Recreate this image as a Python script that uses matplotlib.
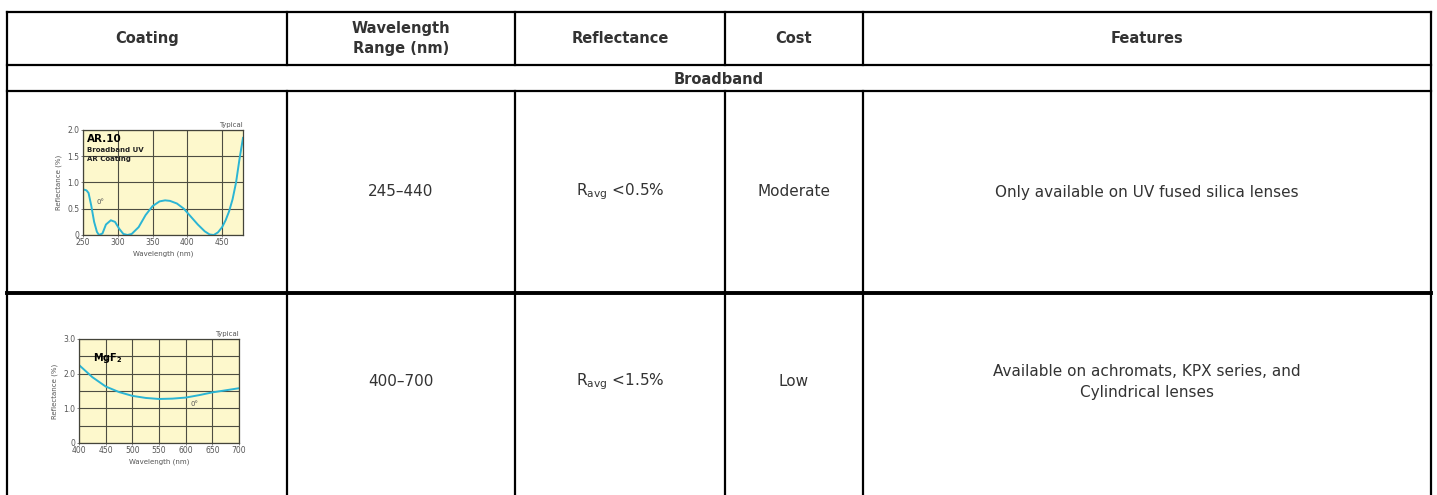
import matplotlib
matplotlib.use("Agg")
import matplotlib.pyplot as plt
import numpy as np

plt.rcParams['font.family'] = ['DejaVu Sans']
plt.rcParams['mathtext.default'] = 'regular'

# ---------------- data ----------------
headers = ["Coating", "Wavelength\nRange (nm)", "Reflectance", "Cost", "Features"]
section = "Broadband"
wavelength_ranges = ["245\u2013440", "400\u2013700"]
reflectances = ["R$_{avg}$ <0.5%", "R$_{avg}$ <1.5%"]
costs = ["Moderate", "Low"]
features = ["Only available on UV fused silica lenses",
            "Available on achromats, KPX series, and\nCylindrical lenses"]

# AR.10 curve (wavelength nm, reflectance %)
ar10_wl = [250, 255, 258, 262, 266, 270, 273, 278, 283, 290, 296, 302, 308, 314,
           320, 330, 340, 350, 360, 368, 375, 385, 395, 405, 415, 425, 432, 438,
           444, 450, 455, 460, 465, 470, 475, 480]
ar10_r = [0.87, 0.85, 0.80, 0.55, 0.25, 0.06, 0.00, 0.03, 0.20, 0.28, 0.25, 0.12,
          0.02, 0.00, 0.02, 0.15, 0.38, 0.55, 0.64, 0.66, 0.65, 0.60, 0.50, 0.35,
          0.20, 0.07, 0.01, 0.00, 0.05, 0.15, 0.28, 0.45, 0.68, 1.00, 1.45, 1.85]
ar10_xticks = [250, 300, 350, 400, 450]
ar10_yticks = [0, 0.5, 1.0, 1.5, 2.0]
ar10_yticklabels = ["0", "0.5", "1.0", "1.5", "2.0"]

# MgF2 curve
mgf2_wl = [400, 425, 450, 475, 500, 525, 550, 575, 600, 625, 650, 675, 700]
mgf2_r = [2.25, 1.90, 1.63, 1.47, 1.36, 1.30, 1.27, 1.28, 1.31, 1.38, 1.46, 1.52, 1.58]
mgf2_xticks = [400, 450, 500, 550, 600, 650, 700]
mgf2_yticks = [0, 1.0, 2.0, 3.0]
mgf2_yticklabels = ["0", "1.0", "2.0", "3.0"]

# ---------------- layout ----------------
W, H = 1437, 495
fig = plt.figure(figsize=(W / 100, H / 100), dpi=100)
ax = fig.add_axes([0, 0, 1, 1])
ax.set_xlim(0, W)
ax.set_ylim(H, 0)
ax.axis('off')

col_x = [7, 287, 515, 725, 863, 1431]
y_top, y_head, y_sec, y_row1 = 12, 65, 91, 293
y_bot = 495

lw = 1.6
txt = '#333333'
# horizontal lines
ax.plot([col_x[0], col_x[-1]], [y_top, y_top], color='black', lw=lw)
ax.plot([col_x[0], col_x[-1]], [y_head, y_head], color='black', lw=lw)
ax.plot([col_x[0], col_x[-1]], [y_sec, y_sec], color='black', lw=lw)
ax.plot([col_x[0], col_x[-1]], [y_row1, y_row1], color='black', lw=2.8)
# vertical lines
for i, x in enumerate(col_x):
    if i in (0, len(col_x) - 1):
        ax.plot([x, x], [y_top, y_bot], color='black', lw=lw)
    else:
        ax.plot([x, x], [y_top, y_head], color='black', lw=lw)
        ax.plot([x, x], [y_sec, y_bot], color='black', lw=lw)

centers = [(col_x[i] + col_x[i + 1]) / 2 for i in range(5)]
for c, h in zip(centers, headers):
    ax.text(c, (y_top + y_head) / 2, h, ha='center', va='center',
            fontsize=10.5, fontweight='bold', color=txt, linespacing=1.35)
ax.text((col_x[0] + col_x[-1]) / 2, (y_head + y_sec) / 2 + 1, section,
        ha='center', va='center', fontsize=10.5, fontweight='bold', color=txt)

row_y = [192, 382]
for i in range(2):
    ax.text(centers[1], row_y[i], wavelength_ranges[i], ha='center', va='center',
            fontsize=11, color=txt)
    ax.text(centers[2], row_y[i], reflectances[i], ha='center', va='center',
            fontsize=11, color=txt)
    ax.text(centers[3], row_y[i], costs[i], ha='center', va='center',
            fontsize=11, color=txt)
    ax.text(centers[4], row_y[i], features[i], ha='center', va='center',
            fontsize=11, color=txt, linespacing=1.45)

# ---------------- mini charts ----------------
cream = '#FDF8CC'
cyan = '#2BB5D4'
gridc = '#4d4d42'


def mini(left, top, right, bottom):
    return fig.add_axes([left / W, 1 - bottom / H, (right - left) / W, (bottom - top) / H])


def style(a):
    a.set_facecolor(cream)
    for s in a.spines.values():
        s.set_color('#44443a')
        s.set_linewidth(0.9)
    a.tick_params(labelsize=5.5, length=1.5, width=0.5, pad=1, colors='#555555')
    a.grid(True, color=gridc, lw=0.8)
    a.set_axisbelow(True)


a1 = mini(83, 130, 243, 235)
style(a1)
a1.plot(ar10_wl, ar10_r, color=cyan, lw=1.4)
a1.set_xlim(250, 480)
a1.set_ylim(0, 2.0)
a1.set_xticks(ar10_xticks)
a1.set_yticks(ar10_yticks)
a1.set_yticklabels(ar10_yticklabels)
a1.set_xlabel("Wavelength (nm)", fontsize=5, labelpad=2, color='#555555')
a1.set_ylabel("Reflectance (%)", fontsize=5, labelpad=4, color='#555555')
a1.text(256, 1.83, "AR.10", fontsize=7.5, fontweight='bold', va='center', color='black')
a1.text(256, 1.62, "Broadband UV", fontsize=5, fontweight='bold', va='center', color='#222222')
a1.text(256, 1.44, "AR Coating", fontsize=5, fontweight='bold', va='center', color='#222222')
a1.text(270, 0.63, "0\u00b0", fontsize=5, va='center', color='#555555')
a1.text(1.0, 1.02, "Typical", transform=a1.transAxes, ha='right', va='bottom',
        fontsize=5, color='#555555')

a2 = mini(79, 339, 239, 443)
style(a2)
a2.plot(mgf2_wl, mgf2_r, color=cyan, lw=1.4)
a2.set_xlim(400, 700)
a2.set_ylim(0, 3.0)
a2.set_xticks(mgf2_xticks)
a2.set_yticks(mgf2_yticks)
a2.set_yticklabels(mgf2_yticklabels)
a2.set_yticks([0.5, 1.5, 2.5], minor=True)
a2.grid(True, which='minor', axis='y', color=gridc, lw=0.8)
a2.tick_params(which='minor', length=0)
a2.set_xlabel("Wavelength (nm)", fontsize=5, labelpad=2, color='#555555')
a2.set_ylabel("Reflectance (%)", fontsize=5, labelpad=4, color='#555555')
a2.text(427, 2.45, "MgF$_2$", fontsize=7, fontweight='bold', va='center', color='black')
a2.text(610, 1.13, "0\u00b0", fontsize=5, va='center', color='#555555')
a2.text(1.0, 1.02, "Typical", transform=a2.transAxes, ha='right', va='bottom',
        fontsize=5, color='#555555')

fig.savefig("out.png", dpi=100)
